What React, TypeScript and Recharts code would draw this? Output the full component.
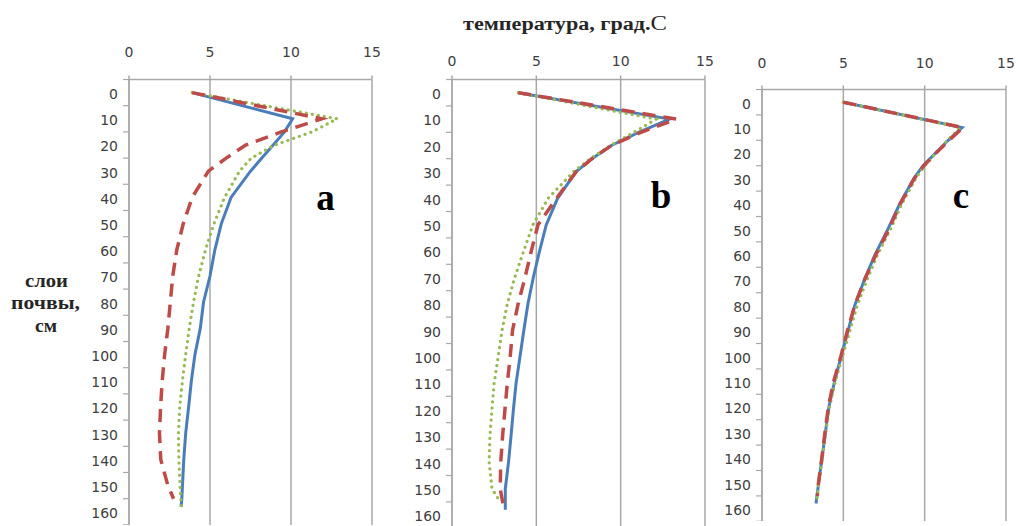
import React from 'react';
import { LineChart, Line, XAxis, YAxis, CartesianGrid } from 'recharts';

// depth of soil layer, cm (shared by the three panels)
const depths = [0, 10, 15, 20, 25, 30, 40, 50, 60, 70, 80, 90, 100, 110, 120, 130, 140, 150, 155, 158];
const depthTicks = [0, 10, 20, 30, 40, 50, 60, 70, 80, 90, 100, 110, 120, 130, 140, 150, 160];
const tempTicks = [0, 5, 10, 15];

// panel a, temperature °C
const aBlue = [3.9, 10.1, 9.6, 8.9, 8.2, 7.5, 6.3, 5.7, 5.3, 5.0, 4.6, 4.4, 4.07, 3.85, 3.68, 3.5, 3.38, 3.3, 3.26, 3.22];
const aRed = [3.9, 11.9, 9.4, 7.2, 6.0, 4.9, 3.9, 3.35, 2.95, 2.7, 2.55, 2.4, 2.2, 2.05, 1.95, 1.88, 1.96, 2.4, 2.75, null];
const aGreen = [3.9, 12.85, 11.3, 9.0, 7.55, 6.82, 5.9, 5.25, 4.72, 4.3, 3.98, 3.72, 3.5, 3.3, 3.13, 3.05, 3.08, 3.15, 3.2, 3.22];

// panel b
const bBlue = [3.93, 12.9, 11.06, 9.45, 8.3, 7.35, 6.26, 5.59, 5.19, 4.82, 4.5, 4.26, 4.03, 3.8, 3.64, 3.5, 3.35, 3.16, 3.16, 3.16];
const bRed = [3.93, 13.3, 11.2, 9.45, 8.3, 7.35, 6.2, 5.1, 4.7, 4.33, 3.92, 3.59, 3.45, 3.28, 3.14, 3.0, 2.89, 2.86, 3.0, 3.16];
const bGreen = [3.93, 12.1, 10.8, 9.4, 8.2, 7.2, 5.7, 4.8, 4.25, 3.72, 3.28, 2.97, 2.74, 2.5, 2.37, 2.25, 2.2, 2.37, 2.86, null];

// panel c
const cBlue = [5.0, 12.3, 11.45, 10.67, 9.9, 9.34, 8.47, 7.74, 6.95, 6.29, 5.7, 5.29, 4.87, 4.46, 4.11, 3.9, 3.69, 3.48, 3.38, 3.32];
const cRed = [5.0, 12.35, 11.5, 10.7, 9.95, 9.36, 8.5, 7.8, 7.0, 6.3, 5.7, 5.25, 4.85, 4.4, 4.08, 3.87, 3.68, 3.47, 3.4, null];
const cGreen = [5.0, 12.2, 11.4, 10.7, 10.0, 9.45, 8.6, 7.9, 7.1, 6.45, 5.85, 5.4, 4.95, 4.5, 4.15, 3.92, 3.72, 3.5, 3.4, 3.33];

const makeRows = (blue: (number | null)[], red: (number | null)[], green: (number | null)[]) =>
  depths.map((d, i) => ({ depth: d, blue: blue[i], red: red[i], green: green[i] }));

const GRID = '#a8a8a8';
const TICK_TEXT = '#404040';
const SERIF = '"Liberation Serif", "Times New Roman", serif';

type Panel = {
  letter: string;
  rows: ReturnType<typeof makeRows>;
  left: number; // x of temperature 0
  width: number; // 0..15
  top: number; // top axis line
  perUnit: number; // px per cm
  xGap: number; // distance of x labels above axis line
  letterX: number;
  letterY: number;
};

const panels: Panel[] = [
  { letter: 'a', rows: makeRows(aBlue, aRed, aGreen), left: 129, width: 243, top: 79.5, perUnit: 2.62, xGap: 27, letterX: 325.5, letterY: 210 },
  { letter: 'b', rows: makeRows(bBlue, bRed, bGreen), left: 452, width: 253, top: 79.5, perUnit: 2.64, xGap: 18, letterX: 661, letterY: 208 },
  { letter: 'c', rows: makeRows(cBlue, cRed, cGreen), left: 762, width: 244, top: 89.5, perUnit: 2.54, xGap: 26, letterX: 961, letterY: 208 },
];

const Y_AXIS_W = 40;
const X_AXIS_H = 30;

const ProfileChart = ({ p }: { p: Panel }) => {
  const plotH = 170 * p.perUnit;
  const half = 5 * p.perUnit;

  const XTick = (props: any) => (
    <text x={props.x} y={p.top - p.xGap} dy="0.35em" textAnchor="middle"
      fontFamily="DejaVu Sans" fontSize={14} fill={TICK_TEXT}>
      {props.payload.value}
    </text>
  );

  const YTick = (props: any) => {
    const y = props.y;
    return (
      <g>
        {props.payload.value === 0 && (
          <line x1={Y_AXIS_W - 6} x2={Y_AXIS_W} y1={y - half} y2={y - half} stroke={GRID} strokeWidth={1.2} />
        )}
        <line x1={Y_AXIS_W - 6} x2={Y_AXIS_W} y1={y + half} y2={y + half} stroke={GRID} strokeWidth={1.2} />
        <text x={Y_AXIS_W - 11} y={y + 1.5} dy="0.35em" textAnchor="end"
          fontFamily="DejaVu Sans" fontSize={14} fill={TICK_TEXT}>
          {props.payload.value}
        </text>
      </g>
    );
  };

  return (
    <div style={{ position: 'absolute', left: p.left - Y_AXIS_W, top: 0 }}>
      <LineChart
        layout="vertical"
        width={Y_AXIS_W + p.width + 8}
        height={p.top + plotH}
        data={p.rows}
        margin={{ top: p.top - X_AXIS_H, right: 8, left: 0, bottom: 0 }}
      >
        <CartesianGrid horizontal={false} stroke={GRID} strokeWidth={1.5} />
        <XAxis type="number" orientation="top" domain={[0, 15]} ticks={tempTicks}
          height={X_AXIS_H} tickSize={4} axisLine={{ stroke: GRID, strokeWidth: 1.5 }}
          tickLine={{ stroke: GRID, strokeWidth: 1.5 }} tick={XTick} />
        <YAxis type="number" dataKey="depth" domain={[-5, 165]} ticks={depthTicks}
          width={Y_AXIS_W} axisLine={{ stroke: GRID, strokeWidth: 1.5 }} tickLine={false} tick={YTick} />
        <Line dataKey="blue" stroke="#4a7ebb" strokeWidth={3} dot={false} activeDot={false}
          isAnimationActive={false} />
        <Line dataKey="green" stroke="#98b954" strokeWidth={3.2} strokeDasharray="0.1 6"
          strokeLinecap="round" dot={false} activeDot={false} isAnimationActive={false} />
        <Line dataKey="red" stroke="#be4b48" strokeWidth={3.5} strokeDasharray="13 8"
          dot={false} activeDot={false} isAnimationActive={false} />
      </LineChart>
    </div>
  );
};

export default function App() {
  return (
    <div style={{ position: 'absolute', left: 0, top: 0, width: 1018, height: 526, overflow: 'hidden', background: '#fff' }}>
      {panels.map((p) => (
        <ProfileChart key={p.letter} p={p} />
      ))}
      <svg width={1018} height={526} style={{ position: 'absolute', left: 0, top: 0, pointerEvents: 'none' }}>
        <text x={463} y={30} fontFamily={SERIF} fontSize={18} fill="#262626" textLength={204} lengthAdjust="spacingAndGlyphs">
          <tspan fontWeight="bold">температура, град.</tspan>
          <tspan fontWeight="normal" fontSize={20}>С</tspan>
        </text>
        <text x={25} y={287} fontFamily={SERIF} fontSize={19} fontWeight="bold" fill="#262626" textLength={43} lengthAdjust="spacingAndGlyphs">слои</text>
        <text x={11} y={309} fontFamily={SERIF} fontSize={19} fontWeight="bold" fill="#262626" textLength={69} lengthAdjust="spacingAndGlyphs">почвы,</text>
        <text x={35} y={332} fontFamily={SERIF} fontSize={19} fontWeight="bold" fill="#262626" textLength={22} lengthAdjust="spacingAndGlyphs">см</text>
        {panels.map((p) => (
          <text key={p.letter} x={p.letterX} y={p.letterY} textAnchor="middle" fontFamily={SERIF}
            fontSize={37} fontWeight="bold" fill="#000">
            {p.letter}
          </text>
        ))}
      </svg>
    </div>
  );
}
